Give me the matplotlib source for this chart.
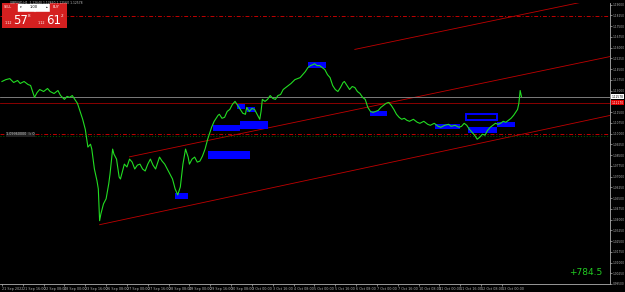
import matplotlib

matplotlib.use("Agg")
import matplotlib.pyplot as plt
from matplotlib.patches import Rectangle

# GBPUSD H1 closes, bar index counted from 21 Sep 2022 00:00 (trading hours only)
bars = [0, 3, 6, 9, 12, 14, 17, 20, 22, 25, 27, 29, 32, 35, 37, 40, 43, 45, 48, 50,
        52, 54, 56, 58, 60, 62, 64, 66, 68, 69, 71, 73, 74, 75, 76, 78, 80, 82, 83, 85,
        86, 88, 90, 91, 93, 94, 96, 98, 100, 102, 104, 106, 108, 110, 112, 114, 116, 118, 120, 121,
        123, 125, 127, 129, 131, 133, 135, 137, 139, 141, 143, 144, 146, 148, 150, 152, 154, 156, 158, 160,
        161, 163, 164, 166, 167, 169, 171, 173, 175, 177, 179, 181, 183, 185, 187, 188, 190, 192, 194, 196,
        198, 199, 200, 202, 204, 206, 208, 210, 212, 214, 216, 218, 220, 222, 225, 227, 229, 231, 233, 235,
        237, 239, 240, 242, 244, 246, 248, 250, 252, 254, 256, 258, 260, 262, 263, 265, 267, 269, 271, 273,
        275, 277, 279, 281, 283, 285, 287, 289, 291, 293, 295, 297, 299, 301, 303, 305, 307, 309, 311, 313,
        316, 319, 321, 324, 327, 329, 332, 335, 337, 340, 343, 345, 348, 351, 353, 355, 357, 359, 361, 363,
        365, 367, 369, 371, 373, 375, 377, 379, 381, 383, 385, 387, 389, 391, 393, 395, 396, 397, 398, 399]
closes = [1.1364, 1.1377, 1.1384, 1.1357, 1.1371, 1.1350, 1.1364, 1.1343, 1.1336, 1.1253,
          1.1287, 1.1308, 1.1294, 1.1315, 1.1294, 1.1280, 1.1301, 1.1266, 1.1239, 1.1260,
          1.1253, 1.1266, 1.1239, 1.1211, 1.1155, 1.1100, 1.1030, 1.0906, 1.0926, 1.0892,
          1.0753, 1.0670, 1.0614, 1.0392, 1.0440, 1.0510, 1.0545, 1.0649, 1.0718, 1.0892,
          1.0857, 1.0822, 1.0697, 1.0683, 1.0753, 1.0787, 1.0767, 1.0822, 1.0801, 1.0753,
          1.0780, 1.0787, 1.0753, 1.0739, 1.0787, 1.0822, 1.0780, 1.0753, 1.0808, 1.0836,
          1.0808, 1.0787, 1.0753, 1.0718, 1.0683, 1.0614, 1.0572, 1.0628, 1.0787, 1.0892,
          1.0836, 1.0787, 1.0822, 1.0836, 1.0801, 1.0808, 1.0843, 1.0892, 1.0961, 1.1017,
          1.1044, 1.1086, 1.1100, 1.1128, 1.1135, 1.1107, 1.1114, 1.1155, 1.1169, 1.1204,
          1.1225, 1.1197, 1.1169, 1.1142, 1.1135, 1.1183, 1.1155, 1.1176, 1.1169, 1.1135,
          1.1100, 1.1155, 1.1239, 1.1225, 1.1239, 1.1266, 1.1246, 1.1239, 1.1266, 1.1273,
          1.1308, 1.1322, 1.1336, 1.1350, 1.1377, 1.1384, 1.1391, 1.1412, 1.1433, 1.1461,
          1.1475, 1.1482, 1.1488, 1.1475, 1.1475, 1.1461, 1.1447, 1.1412, 1.1391, 1.1336,
          1.1308, 1.1294, 1.1322, 1.1357, 1.1364, 1.1336, 1.1308, 1.1329, 1.1322, 1.1294,
          1.1280, 1.1253, 1.1239, 1.1183, 1.1155, 1.1148, 1.1155, 1.1162, 1.1183, 1.1197,
          1.1211, 1.1218, 1.1197, 1.1169, 1.1135, 1.1114, 1.1100, 1.1107, 1.1093, 1.1086,
          1.1100, 1.1079, 1.1072, 1.1086, 1.1065, 1.1058, 1.1072, 1.1051, 1.1044, 1.1058,
          1.1065, 1.1051, 1.1058, 1.1044, 1.1051, 1.1072, 1.1058, 1.1030, 1.1009, 1.0989,
          1.0961, 1.0975, 1.0996, 1.0989, 1.1023, 1.1044, 1.1058, 1.1072, 1.1065, 1.1072,
          1.1086, 1.1079, 1.1093, 1.1107, 1.1128, 1.1155, 1.1169, 1.1211, 1.1301, 1.1258]

tick_bars = list(range(0, 385, 16))
tick_labels = ["21 Sep 2022", "21 Sep 16:00", "22 Sep 08:00", "23 Sep 00:00", "23 Sep 16:00",
               "26 Sep 08:00", "27 Sep 00:00", "27 Sep 16:00", "28 Sep 08:00", "29 Sep 00:00",
               "29 Sep 16:00", "30 Sep 08:00", "3 Oct 00:00", "3 Oct 16:00", "4 Oct 08:00",
               "5 Oct 00:00", "5 Oct 16:00", "6 Oct 08:00", "7 Oct 00:00", "7 Oct 16:00",
               "10 Oct 08:00", "11 Oct 00:00", "11 Oct 16:00", "12 Oct 08:00", "13 Oct 00:00"]
price_ticks = [round(1.19 - k * 0.0075, 5) for k in range(27)]

# channel trendlines: (bar0, price0, bar1, price1)
channel = [(75, 1.0364, 467, 1.1127),
           (98, 1.0838, 467, 1.1538),
           (271, 1.1588, 467, 1.1959)]

# supply/demand zones
zone_x0 = [132.9, 158.2, 162.1, 182.8, 180.5, 188.2, 235.0, 282.6, 332.6, 357.9, 380.2]
zone_x1 = [142.9, 190.5, 182.8, 204.3, 186.6, 194.3, 248.8, 295.7, 351.8, 380.2, 394.0]
zone_top = [1.0586, 1.0878, 1.1058, 1.1086, 1.1204, 1.1183, 1.1502, 1.1155, 1.1065, 1.1044, 1.1079]
zone_bot = [1.0545, 1.0822, 1.1017, 1.1030, 1.1169, 1.1148, 1.1461, 1.1121, 1.1030, 1.1003, 1.1044]
outline_zone = (356.4, 380.2, 1.1135, 1.1093)

bid, ask = 1.12578, 1.12612
red_level = 1.12170
dashed_levels = [1.1822, 1.0996]
green_level = 1.0982
profit = "+784.5"

W, H = 625, 292
LBL = 2.4  # MT4 uses a tiny axis font
YLBL = 2.1
fig = plt.figure(figsize=(W / 100, H / 100), dpi=100, facecolor="black")
ax = fig.add_axes([0, 1 - 284 / H, 610 / W, 281 / H], facecolor="black")

for x0, x1, top, bot in zip(zone_x0, zone_x1, zone_top, zone_bot):
    ax.add_patch(Rectangle((x0, bot), x1 - x0, top - bot, color="#0000ff", lw=0, zorder=2))
ox0, ox1, otop, obot = outline_zone
ax.add_patch(Rectangle((ox0, obot), ox1 - ox0, otop - obot, fill=False,
                       edgecolor="#0000ff", lw=1.4, zorder=2))

for b0, p0, b1, p1 in channel:
    ax.plot([b0, b1], [p0, p1], color="#c00000", lw=0.6, zorder=1)
for lvl in dashed_levels:
    ax.axhline(lvl, color="#c00000", lw=0.7, ls=(0, (4, 2, 1, 2)), zorder=1)
ax.axhline(green_level, color="#006400", lw=0.7, ls=(0, (1, 2)), zorder=1)
ax.axhline(red_level, color="#a00000", lw=0.6, zorder=1)
ax.axhline(bid, color="#909090", lw=0.6, zorder=1)

ax.plot(bars, closes, color="#22dd22", lw=0.8, zorder=3)

ax.set_xlim(-1.5, 467)
ax.set_ylim(0.9955, 1.1912)

ax.yaxis.tick_right()
ax.set_yticks(price_ticks)
ax.set_yticklabels([f"{p:.5f}" for p in price_ticks])
ax.set_xticks(tick_bars)
ax.set_xticklabels(tick_labels, ha="left")
ax.tick_params(colors="#b0b0b0", labelsize=LBL, length=1.5, width=0.5, pad=0.8)
ax.tick_params(axis="y", labelsize=YLBL, length=1.2, pad=0.5)
for side in ("left", "top"):
    ax.spines[side].set_visible(False)
for side in ("right", "bottom"):
    ax.spines[side].set_color("#b0b0b0")
    ax.spines[side].set_linewidth(0.6)

# price boxes on the right scale
ax.annotate(f"{bid:.5f}", xy=(1.0, bid), xycoords=("axes fraction", "data"),
            xytext=(1.2, 0), textcoords="offset points", fontsize=YLBL, color="black",
            va="center", bbox=dict(boxstyle="square,pad=0.12", fc="white", ec="none"))
ax.annotate(f"{red_level:.5f}", xy=(1.0, red_level), xycoords=("axes fraction", "data"),
            xytext=(1.2, 0), textcoords="offset points", fontsize=YLBL, color="white",
            va="center", bbox=dict(boxstyle="square,pad=0.12", fc="#e00000", ec="none"))

ax.text(3, dashed_levels[1], "1.09960000  lc 0", fontsize=LBL, color="#d0d0d0",
        va="center", ha="left", zorder=4,
        bbox=dict(boxstyle="square,pad=0.1", fc="#202020", ec="none"))
ax.text(0.988, 0.04, profit, transform=ax.transAxes, fontsize=6.5, color="#22cc22",
        ha="right", va="center")

fig.text(10 / W, 1 - 2.5 / H, "GBPUSD,H1  1.12640 1.12890 1.12560 1.12578",
         fontsize=2.2, color="#c0c0c0", va="center", ha="left")

# one-click trading panel
panel = fig.add_axes([2 / W, 1 - 28 / H, 65 / W, 25 / H])
panel.set_xlim(0, 65)
panel.set_ylim(25, 0)
panel.axis("off")
red = "#d42020"
panel.add_patch(Rectangle((0, 0), 16, 9, color=red))
panel.add_patch(Rectangle((16, 0.5), 32, 8, color="white"))
panel.add_patch(Rectangle((48, 0), 17, 9, color=red))
panel.add_patch(Rectangle((0, 9), 32, 16, color=red))
panel.add_patch(Rectangle((33, 9), 32, 16, color=red))
panel.text(2, 4.5, "SELL", fontsize=2.4, color="white", va="center")
panel.text(51, 4.5, "BUY", fontsize=2.4, color="white", va="center")
panel.text(32, 4.5, "1.00", fontsize=2.6, color="black", va="center", ha="center")
panel.text(19, 4.5, "\u25be", fontsize=2.4, color="black", va="center", ha="center")
panel.text(45, 4.5, "\u25b4", fontsize=2.4, color="black", va="center", ha="center")
panel.text(3, 20, "1.12", fontsize=2.4, color="white", va="center")
panel.text(11, 18, "57", fontsize=8.5, color="white", va="center")
panel.text(26, 13, "8", fontsize=3, color="white", va="center")
panel.text(36, 20, "1.12", fontsize=2.4, color="white", va="center")
panel.text(44, 18, "61", fontsize=8.5, color="white", va="center")
panel.text(59, 13, "2", fontsize=3, color="white", va="center")

fig.savefig("out.png", dpi=100, facecolor="black")
